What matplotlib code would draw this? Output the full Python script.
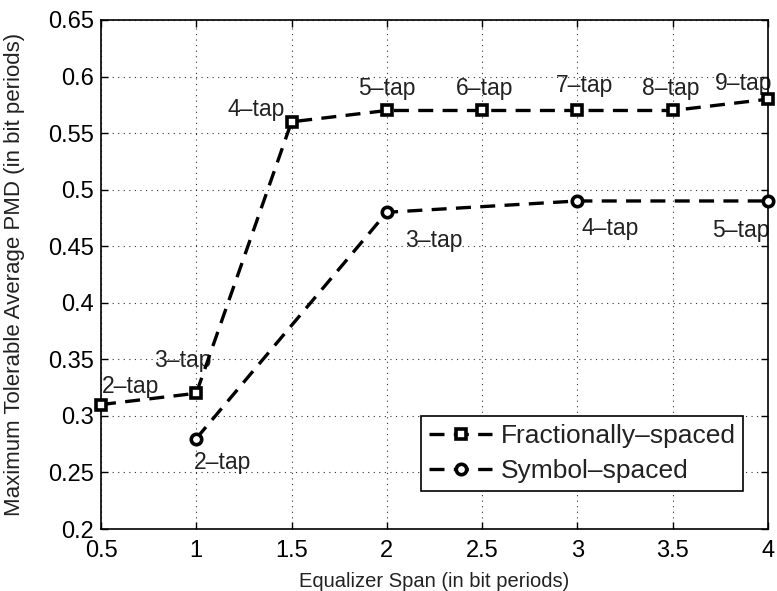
import matplotlib
matplotlib.use("Agg")
import matplotlib.pyplot as plt

plt.rcParams['font.family'] = ['Liberation Sans', 'DejaVu Sans']

# Data
frac_x = [0.5, 1.0, 1.5, 2.0, 2.5, 3.0, 3.5, 4.0]
frac_y = [0.31, 0.32, 0.56, 0.57, 0.57, 0.57, 0.57, 0.58]
frac_labels = ['2\u2013tap', '3\u2013tap', '4\u2013tap', '5\u2013tap', '6\u2013tap', '7\u2013tap', '8\u2013tap', '9\u2013tap']

sym_x = [1.0, 2.0, 3.0, 4.0]
sym_y = [0.28, 0.48, 0.49, 0.49]
sym_labels = ['2\u2013tap', '3\u2013tap', '4\u2013tap', '5\u2013tap']

x_ticks = [0.5, 1, 1.5, 2, 2.5, 3, 3.5, 4]
x_ticklabels = ['0.5', '1', '1.5', '2', '2.5', '3', '3.5', '4']
y_ticks = [0.2, 0.25, 0.3, 0.35, 0.4, 0.45, 0.5, 0.55, 0.6, 0.65]
y_ticklabels = ['0.2', '0.25', '0.3', '0.35', '0.4', '0.45', '0.5', '0.55', '0.6', '0.65']

# Label offsets in pixels (dx, dy up), converted to points
frac_off = [(30, 11.5), (-13, 26), (-35, 6), (0, 15), (2, 15), (7, 18), (-2, 15), (-24, 9)]
sym_off = [(26, -30), (47, -35), (33, -34), (-27, -36)]

fig = plt.figure(figsize=(7.77, 5.91), dpi=100)
ax = fig.add_axes([101/777, 1 - 529/591, 667/777, 509/591])

dash = (4.5, 2.8)
ax.plot(frac_x, frac_y, color='black', linestyle=(0, dash), linewidth=2.4,
        marker='s', markersize=7, markerfacecolor='white', markeredgecolor='black',
        markeredgewidth=2.6, label='Fractionally\u2013spaced', clip_on=False, zorder=3)
ax.plot(sym_x, sym_y, color='black', linestyle=(0, dash), linewidth=2.4,
        marker='o', markersize=7.5, markerfacecolor='white', markeredgecolor='black',
        markeredgewidth=2.6, label='Symbol\u2013spaced', clip_on=False, zorder=3)

k = 0.72
for x, y, t, (dx, dy) in zip(frac_x, frac_y, frac_labels, frac_off):
    ax.annotate(t, (x, y), xytext=(dx * k, dy * k), textcoords='offset points',
                ha='center', va='baseline', fontsize=16.5, color='#222222', zorder=2)
for x, y, t, (dx, dy) in zip(sym_x, sym_y, sym_labels, sym_off):
    ax.annotate(t, (x, y), xytext=(dx * k, dy * k), textcoords='offset points',
                ha='center', va='baseline', fontsize=16.5, color='#222222', zorder=2)

ax.set_xlim(0.5, 4)
ax.set_ylim(0.2, 0.65)
ax.set_xticks(x_ticks)
ax.set_xticklabels(x_ticklabels)
ax.set_yticks(y_ticks)
ax.set_yticklabels(y_ticklabels)
ax.tick_params(direction='in', length=5, width=1, top=True, right=True,
               labelsize=17, colors='black')
ax.tick_params(axis='x', pad=8)
ax.tick_params(axis='y', pad=5)
ax.grid(True, linestyle=(0, (1, 4)), color='black', linewidth=0.8, alpha=0.8)
for s in ax.spines.values():
    s.set_linewidth(1.2)

ax.set_xlabel('Equalizer Span (in bit periods)', fontsize=14.5, color='#222222', va='top')
ax.xaxis.set_label_coords(0.5, -0.084)
ax.set_ylabel('Maximum Tolerable Average PMD (in bit periods)', fontsize=16, color='#222222')
ax.yaxis.set_label_coords(-0.114, 0.5)

leg = ax.legend(loc='lower right', bbox_to_anchor=(0.963, 0.075), fontsize=19,
                fancybox=False, edgecolor='black', framealpha=1, handlelength=2.4,
                handletextpad=0.3, borderpad=0.3, labelspacing=0.4, borderaxespad=0)
leg.get_frame().set_linewidth(1.2)
for t in leg.get_texts():
    t.set_color('#222222')

fig.savefig('out.png', dpi=100)
